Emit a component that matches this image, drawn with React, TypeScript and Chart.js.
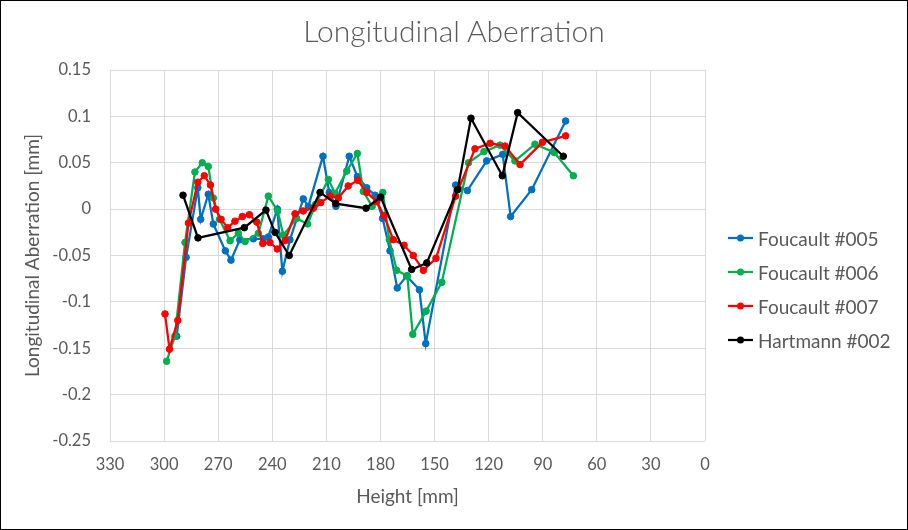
import React, { useEffect, useRef } from "react";
import { Chart, registerables } from "chart.js";

Chart.register(...registerables);

const titleText = "Longitudinal Aberration";
const xTitle = "Height [mm]";
const yTitle = "Longitudinal Aberration [mm]";

const yTickLabels = ["-0.25", "-0.2", "-0.15", "-0.1", "-0.05", "0", "0.05", "0.1", "0.15"];

const seriesNames = ["Foucault #005", "Foucault #006", "Foucault #007", "Hartmann #002"];
const seriesColors = ["#0070C0", "#00B050", "#FF0000", "#000000"];

const f005X = [293.0, 287.8, 281.3, 279.7, 275.5, 272.7, 266.0, 262.9, 258.0, 250.5, 245.0, 242.2, 237.2, 234.4, 230.2, 222.8, 220.0, 211.9, 208.4, 204.7, 197.3, 192.8, 187.6, 183.0, 178.8, 174.7, 170.7, 165.5, 158.4, 154.9, 138.3, 131.8, 121.1, 112.2, 107.8, 96.1, 77.3];
const f005Y = [-0.137, -0.052, 0.023, -0.011, 0.016, -0.016, -0.045, -0.055, -0.033, -0.032, -0.032, -0.030, 0.000, -0.067, -0.033, 0.011, 0.003, 0.057, 0.018, 0.003, 0.057, 0.035, 0.023, 0.015, -0.010, -0.045, -0.085, -0.072, -0.087, -0.145, 0.026, 0.020, 0.052, 0.059, -0.008, 0.021, 0.095];

const f006X = [298.6, 294.0, 288.4, 282.9, 278.8, 275.5, 272.7, 269.3, 263.4, 258.8, 255.1, 247.7, 242.2, 237.0, 233.9, 226.5, 220.4, 216.0, 208.9, 205.2, 198.7, 192.8, 189.5, 184.6, 178.7, 175.1, 171.0, 165.1, 162.1, 154.7, 146.0, 131.2, 122.6, 113.7, 105.4, 94.3, 83.6, 73.0];
const f006Y = [-0.164, -0.137, -0.036, 0.040, 0.050, 0.046, 0.012, -0.011, -0.034, -0.026, -0.035, -0.026, 0.014, -0.002, -0.028, -0.010, -0.016, 0.005, 0.032, 0.017, 0.041, 0.060, 0.019, 0.003, 0.018, -0.033, -0.066, -0.072, -0.135, -0.110, -0.079, 0.050, 0.062, 0.069, 0.052, 0.070, 0.061, 0.036];

const f007X = [299.5, 297.0, 292.4, 286.5, 281.3, 277.7, 274.3, 271.4, 268.4, 264.7, 260.7, 256.6, 252.7, 248.6, 245.3, 241.3, 237.2, 232.9, 227.4, 222.8, 217.2, 213.1, 208.0, 203.4, 197.9, 192.6, 187.6, 182.1, 178.0, 172.9, 166.9, 161.8, 156.2, 149.2, 138.3, 127.6, 119.2, 110.9, 102.6, 90.2, 77.3];
const f007Y = [-0.113, -0.151, -0.120, -0.015, 0.029, 0.036, 0.026, 0.000, -0.011, -0.020, -0.013, -0.008, -0.006, -0.014, -0.037, -0.036, -0.043, -0.034, -0.005, -0.002, 0.001, 0.007, 0.014, 0.012, 0.025, 0.031, 0.018, 0.008, -0.007, -0.033, -0.039, -0.050, -0.066, -0.053, 0.014, 0.065, 0.071, 0.068, 0.048, 0.072, 0.079];

const h002X = [289.5, 281.2, 255.5, 243.5, 238.5, 230.6, 213.5, 204.8, 188.0, 179.9, 162.7, 154.3, 137.2, 129.8, 112.4, 103.9, 78.6];
const h002Y = [0.015, -0.031, -0.020, -0.001, -0.025, -0.050, 0.018, 0.006, 0.001, 0.013, -0.065, -0.058, 0.021, 0.098, 0.036, 0.104, 0.057];

const seriesX = [f005X, f006X, f007X, h002X];
const seriesY = [f005Y, f006Y, f007Y, h002Y];

const FONT = "Lato, 'Open Sans', sans-serif";
const GREY = "#595959";

export default function App() {
  const ref = useRef<HTMLCanvasElement>(null);

  useEffect(() => {
    document.body.style.margin = "0";
    const canvas = ref.current!;
    const chart = new Chart(canvas, {
      type: "scatter",
      data: {
        datasets: seriesNames.map((name, i) => ({
          label: name,
          data: seriesX[i].map((x, j) => ({ x, y: seriesY[i][j] })),
          showLine: true,
          borderColor: seriesColors[i],
          backgroundColor: seriesColors[i],
          pointBackgroundColor: seriesColors[i],
          pointBorderColor: seriesColors[i],
          borderWidth: 2.25,
          pointRadius: 3.3,
          pointBorderWidth: 1,
          order: 4 - i,
          tension: 0,
        })),
      },
      options: {
        animation: false,
        responsive: false,
        devicePixelRatio: 1,
        layout: { padding: { top: 70, right: 203, bottom: 0, left: 0 } },
        plugins: {
          legend: { display: false },
          title: { display: false },
          tooltip: { enabled: false },
        },
        scales: {
          x: {
            type: "linear",
            reverse: true,
            min: 0,
            max: 330,
            ticks: {
              stepSize: 30,
              color: GREY,
              font: { family: FONT, size: 16.5 },
              padding: 14,
              autoSkip: false,
              maxRotation: 0,
            },
            grid: { color: "#d9d9d9", drawTicks: false, lineWidth: 1 },
            border: { display: false },
            title: {
              display: true,
              text: xTitle,
              color: GREY,
              font: { family: FONT, size: 19 },
              padding: { top: 0, bottom: 22 },
            },
            afterFit: (s: any) => {
              s.height = 89;
            },
          },
          y: {
            type: "linear",
            min: -0.25,
            max: 0.15,
            ticks: {
              stepSize: 0.05,
              color: GREY,
              font: { family: FONT, size: 16.5 },
              padding: 19,
              callback: (_v: any, idx: number) => yTickLabels[idx],
            },
            grid: { color: "#d9d9d9", drawTicks: false, lineWidth: 1 },
            border: { display: false },
            title: {
              display: true,
              text: yTitle,
              color: GREY,
              font: { family: FONT, size: 19 },
              padding: { top: 21, bottom: 0 },
            },
            afterFit: (s: any) => {
              s.width = 110;
            },
          },
        },
      },
    });
    return () => chart.destroy();
  }, []);

  const legendTops = [238, 272, 306, 340];

  return (
    <div style={{ position: "relative", width: 908, height: 530, background: "#fff", overflow: "hidden" }}>
      <canvas ref={ref} width={908} height={530} style={{ position: "absolute", left: 0, top: 0, width: 908, height: 530 }} />
      <div
        style={{
          position: "absolute",
          left: 0,
          top: 13,
          width: 908,
          textAlign: "center",
          fontFamily: FONT,
          fontWeight: 300,
          fontSize: 30,
          lineHeight: "34px",
          color: GREY,
        }}
      >
        {titleText}
      </div>
      {seriesNames.map((name, i) => (
        <div
          key={name}
          style={{
            position: "absolute",
            left: 728,
            top: legendTops[i] - 11,
            height: 22,
            display: "flex",
            alignItems: "center",
            fontFamily: FONT,
            fontSize: 19,
            color: GREY,
            whiteSpace: "nowrap",
          }}
        >
          <svg width={28} height={10} style={{ marginRight: 2 }}>
            <line x1={0} y1={5} x2={25} y2={5} stroke={seriesColors[i]} strokeWidth={2.25} />
            <circle cx={12.5} cy={5} r={3.5} fill={seriesColors[i]} />
          </svg>
          <span>{name}</span>
        </div>
      ))}
      <div
        style={{
          position: "absolute",
          left: 0,
          top: 0,
          width: 908,
          height: 530,
          boxSizing: "border-box",
          border: "1px solid #000",
          pointerEvents: "none",
        }}
      />
    </div>
  );
}
